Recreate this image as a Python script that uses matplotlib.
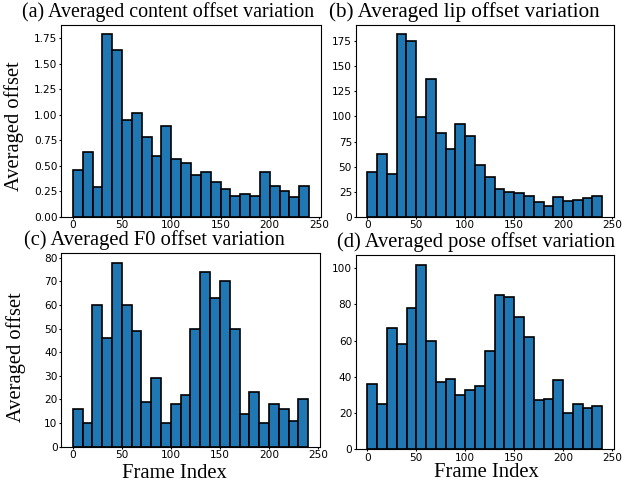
import matplotlib
matplotlib.use("Agg")
import matplotlib.pyplot as plt

frame_start = list(range(0, 240, 10))

content_offset = [0.46, 0.64, 0.29, 1.79, 1.63, 0.95, 1.02, 0.78, 0.60, 0.89, 0.57, 0.53,
                  0.41, 0.44, 0.34, 0.27, 0.21, 0.22, 0.21, 0.44, 0.30, 0.25, 0.20, 0.30]
lip_offset = [45, 63, 43, 182, 175, 99, 137, 83, 68, 92, 80, 52,
              40, 28, 25, 24, 21, 15, 11, 20, 16, 17, 19, 21]
f0_offset = [16, 10, 60, 46, 78, 60, 49, 19, 29, 10, 18, 22,
             50, 74, 63, 70, 50, 14, 23, 10, 18, 16, 11, 20]
pose_offset = [36, 25, 67, 58, 78, 102, 60, 37, 39, 30, 33, 35,
               54, 85, 84, 73, 62, 27, 28, 38, 20, 25, 23, 24]

titles = ["(a) Averaged content offset variation",
          "(b) Averaged lip offset variation",
          "(c) Averaged F0 offset variation",
          "(d) Averaged pose offset variation"]
x_ticks = [0, 50, 100, 150, 200, 250]

W, H = 623, 483
fig = plt.figure(figsize=(W / 100, H / 100), dpi=100)

def px_axes(left, right, top, bottom):
    return fig.add_axes([left / W, 1 - bottom / H, (right - left) / W, (bottom - top) / H])

axes = [px_axes(61, 321, 24.7, 217),
        px_axes(355.5, 614, 24.7, 217),
        px_axes(61, 320, 253.3, 446.7),
        px_axes(355.7, 614, 255.3, 449.3)]

series = [content_offset, lip_offset, f0_offset, pose_offset]
serif = "Liberation Serif"

# title placement (pixel centre x, baseline y) and size
title_pos = [(168.5, 17.5), (464.5, 17.0), (154.5, 245.0), (476.0, 246.5)]
title_size = [14.4, 15.2, 14.8, 14.8]

for i, (ax, vals) in enumerate(zip(axes, series)):
    ax.bar(frame_start, vals, width=10, align="edge", color="#1f77b4",
           edgecolor="black", linewidth=1.2)
    ax.set_xticks(x_ticks)
    ax.tick_params(labelsize=7.6, length=1.6, pad=0.9)
    cx, by = title_pos[i]
    fig.text(cx / W, 1 - by / H, titles[i], fontfamily=serif, fontsize=title_size[i],
             ha="center", va="baseline")

axes[0].set_ylabel("Averaged offset", fontfamily=serif, fontsize=14.8)
axes[0].yaxis.set_label_coords(-0.144, 0.47)
axes[2].set_ylabel("Averaged offset", fontfamily=serif, fontsize=14.8)
axes[2].yaxis.set_label_coords(-0.137, 0.463)

axes[2].set_xlabel("Frame Index", fontfamily=serif, fontsize=14.9)
axes[2].xaxis.set_label_coords(0.437, -0.092)
axes[3].set_xlabel("Frame Index", fontfamily=serif, fontsize=14.9)
axes[3].xaxis.set_label_coords(0.507, -0.073)

fig.savefig("out.png", dpi=100)
